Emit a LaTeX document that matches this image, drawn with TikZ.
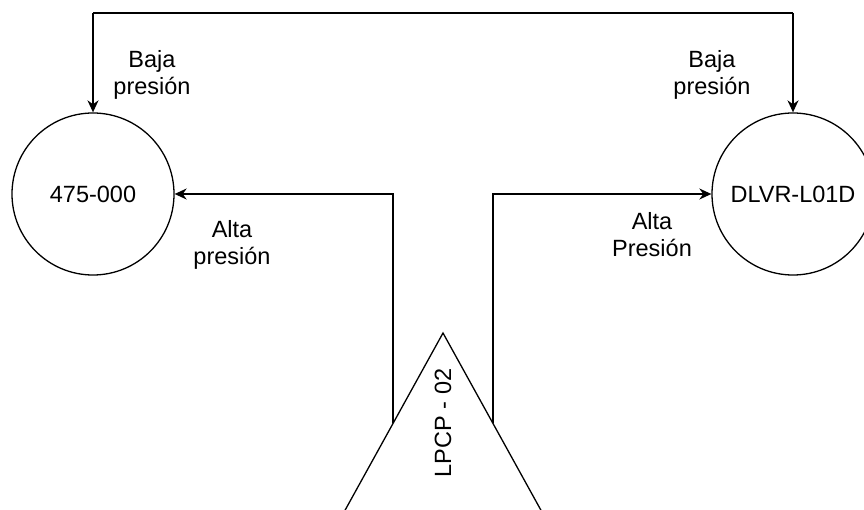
\documentclass[tikz,border=0pt]{standalone}
\usepackage{fontspec}
\setmainfont{Liberation Sans}
\usetikzlibrary{arrows.meta,calc}
\begin{document}
\begin{tikzpicture}[x=1pt,y=-1pt,
  conn/.style={line width=1.6pt,-{Stealth[length=12pt,width=11pt]}},
  plain/.style={line width=1.6pt},
  lbl/.style={font=\fontsize{23.5}{27}\selectfont,align=center,inner sep=0pt},
  circ/.style={circle,draw,line width=1.3pt,minimum size=162pt,inner sep=0pt,font=\fontsize{23.5}{27}\selectfont}]
\useasboundingbox (0,0) rectangle (864,510);
\clip (0,0) rectangle (864,510);
\fill[white] (0,0) rectangle (864,510);
% circles
\node[circ] (A) at (93,194) {475-000};
\node[circ] (D) at (793,194) {DLVR-L01D};
% triangle
\coordinate (apex) at (443,333);
\coordinate (bl) at ($(apex)+(-160,289.5)$);
\coordinate (br) at ($(apex)+(160,289.5)$);
\draw[line width=1.3pt,line join=miter] (apex) -- (bl) -- (br) -- cycle;
\node[lbl,rotate=90] (T) at (443,423) {LPCP - 02};
\coordinate (tl) at ($(apex)!0.3125!(bl)$);
\coordinate (tr) at ($(apex)!0.3125!(br)$);
% connectors
\draw[conn] (tl) |- (A.east);
\draw[conn] (tr) |- (D.west);
\coordinate (topL) at (93,13);
\coordinate (topR) at (793,13);
\draw[plain] (topL) -- (topR);
\draw[conn] (topL) -- (A.north);
\draw[conn] (topR) -- (D.north);
% labels
\node[lbl] (l1) at (152,75) {Baja\\presión};
\node[lbl] (l2) at (712,75) {Baja\\presión};
\node[lbl] (l3) at (232,245) {Alta\\presión};
\node[lbl] (l4) at (652,235) {Alta\\Presión};
\end{tikzpicture}
\end{document}
